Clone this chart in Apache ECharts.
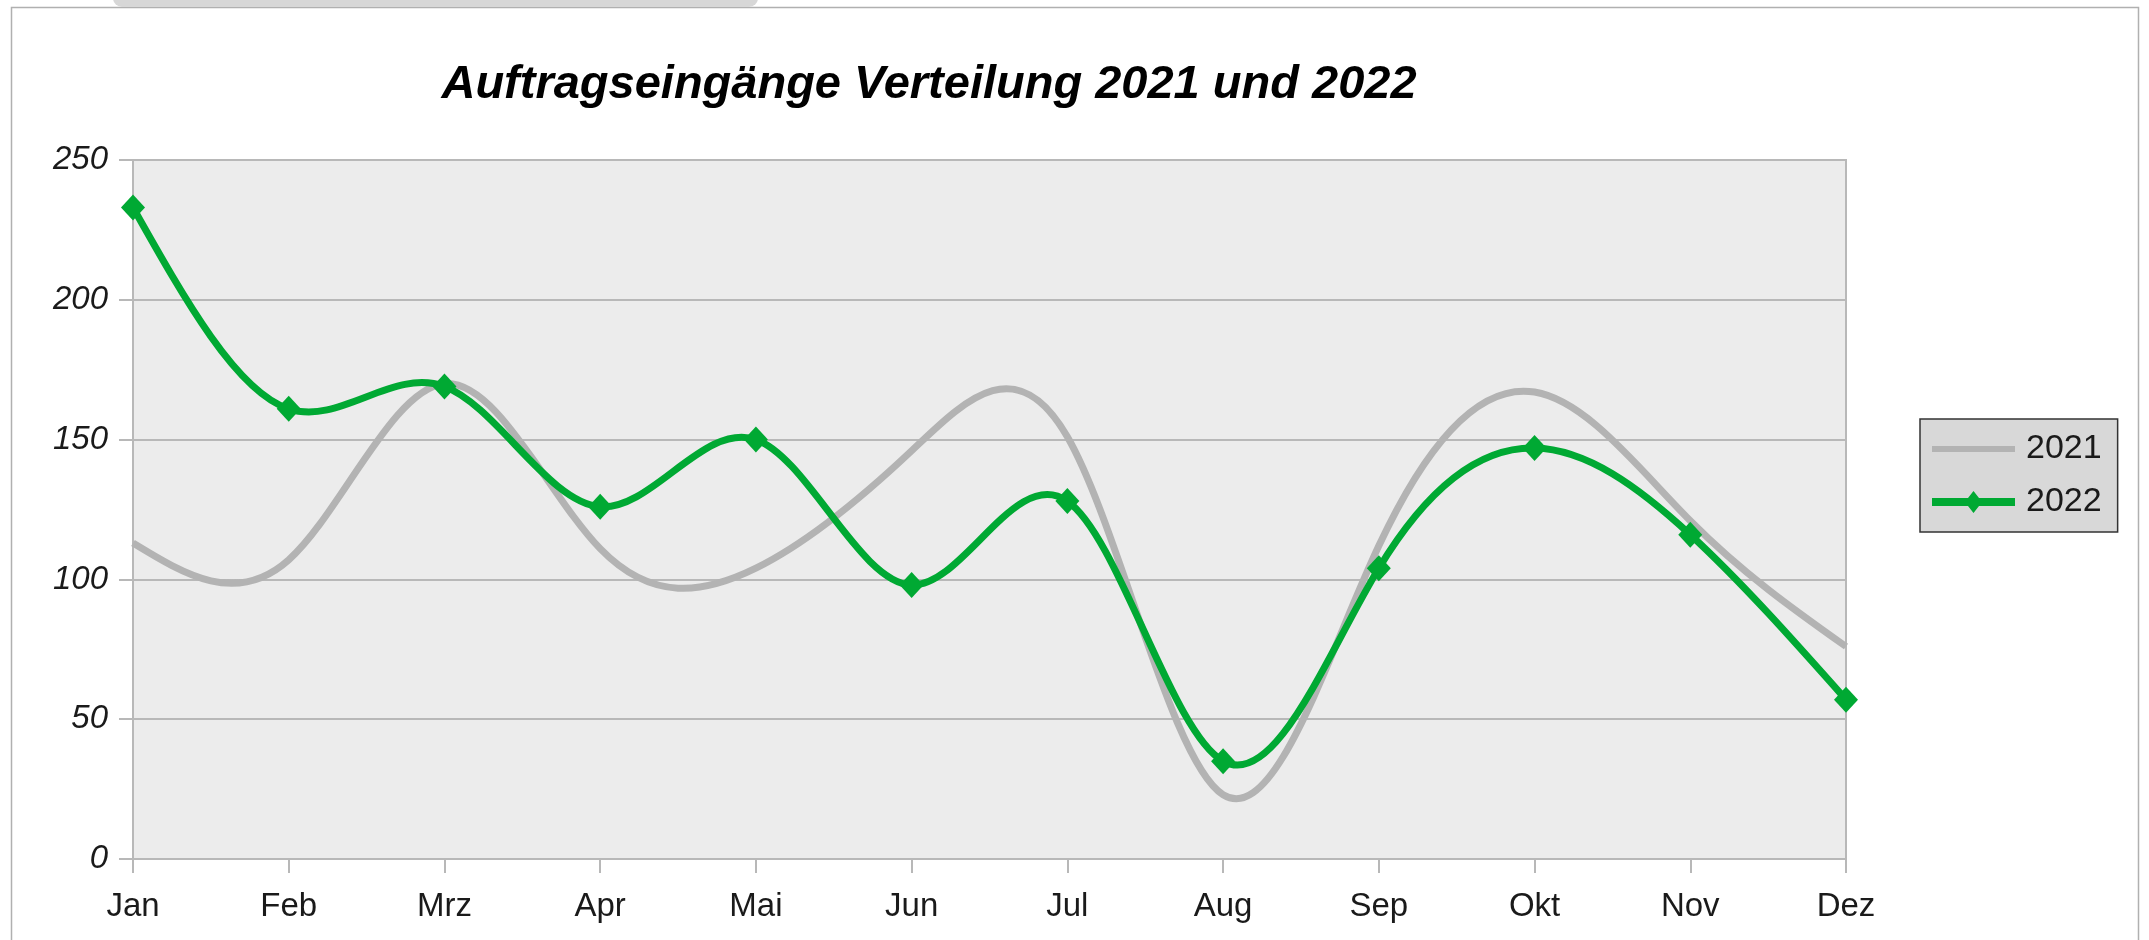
<!DOCTYPE html>
<html>
<head>
<meta charset="utf-8">
<title>Auftragseingänge Verteilung 2021 und 2022</title>
<script src="https://cdn.jsdelivr.net/npm/echarts@6/dist/echarts.min.js"></script>
<style>
    html, body { margin: 0; padding: 0; background: #fff; }
    #chart { width: 2149px; height: 940px; }
</style>
</head>
<body>
<div id="chart"></div>
<script>
// Monate und Werte
const months = ['Jan', 'Feb', 'Mrz', 'Apr', 'Mai', 'Jun', 'Jul', 'Aug', 'Sep', 'Okt', 'Nov', 'Dez'];
const values2021 = [113, 107, 170, 111, 104, 146, 151, 23, 112, 167, 121, 76];
const values2022 = [233, 161, 169, 126, 150, 98, 128, 35, 104, 147, 116, 57];
const yTicks = [0, 50, 100, 150, 200, 250];

const fontFamily = '"Liberation Sans", Arial, sans-serif';
const textColor = '#1a1a1a';
const gridColor = '#b8b8b8';
const grey = '#b3b3b3';
const green = '#00a933';

// natürlicher kubischer Spline durch die Pixelpunkte (wie LibreOffice "Kubischer Spline")
function splinePath(pts) {
    const n = pts.length - 1;
    const h = pts[1][0] - pts[0][0];
    const M = new Array(n + 1).fill(0);
    // Tridiagonal-System lösen (Thomas-Algorithmus), M0 = Mn = 0
    const c = new Array(n + 1).fill(0);
    const d = new Array(n + 1).fill(0);
    for (let i = 1; i < n; i++) {
        const rhs = 6 / (h * h) * (pts[i + 1][1] - 2 * pts[i][1] + pts[i - 1][1]);
        const denom = 4 - (i > 1 ? c[i - 1] : 0);
        c[i] = 1 / denom;
        d[i] = (rhs - (i > 1 ? d[i - 1] : 0)) / denom;
    }
    for (let i = n - 1; i >= 1; i--) {
        M[i] = d[i] - c[i] * (i < n - 1 ? M[i + 1] : 0);
    }
    let path = 'M' + pts[0][0] + ' ' + pts[0][1];
    for (let i = 0; i < n; i++) {
        const x0 = pts[i][0], y0 = pts[i][1];
        const x1 = pts[i + 1][0], y1 = pts[i + 1][1];
        const dx = x1 - x0;
        const s0 = (y1 - y0) / dx - dx * (2 * M[i] + M[i + 1]) / 6;
        const s1 = (y1 - y0) / dx + dx * (M[i] + 2 * M[i + 1]) / 6;
        path += ' C' + (x0 + dx / 3) + ' ' + (y0 + s0 * dx / 3) + ' '
            + (x1 - dx / 3) + ' ' + (y1 - s1 * dx / 3) + ' ' + x1 + ' ' + y1;
    }
    return path;
}

function makeRenderItem(color, width) {
    return function (params, api) {
        if (params.dataIndexInside !== 0) {
            return null;
        }
        const pts = [];
        for (let i = 0; i < params.dataInsideLength; i++) {
            pts.push(api.coord([api.value(0, i), api.value(1, i)]));
        }
        return {
            type: 'path',
            shape: { pathData: splinePath(pts) },
            style: { fill: 'none', stroke: color, lineWidth: width, lineJoin: 'round', lineCap: 'butt' },
        };
    };
}

const data2021 = values2021.map((v, i) => [i, v]);
const data2022 = values2022.map((v, i) => [i, v]);

const myChart = echarts.init(document.getElementById('chart'));

const option = {
    backgroundColor: '#ffffff',
    animation: false,
    title: {
        text: 'Auftragseingänge Verteilung 2021 und 2022',
        left: 929,
        top: 62,
        padding: 0,
        textAlign: 'center',
        textStyle: {
            fontFamily: fontFamily,
            fontSize: 47,
            fontWeight: 'bold',
            fontStyle: 'italic',
            color: '#000',
        },
    },
    graphic: [
        {
            // Rahmen
            type: 'rect',
            shape: { x: 11.5, y: 7.5, width: 2127, height: 1000 },
            style: { fill: 'none', stroke: '#b0b0b0', lineWidth: 1.5 },
            z: -1,
        },
        {
            // grauer Reiter oben
            type: 'rect',
            shape: { x: 113, y: -12, width: 645, height: 19, r: 9 },
            style: { fill: '#d7d7d7' },
            z: 0,
        },
    ],
    legend: {
        orient: 'vertical',
        left: 1920,
        top: 419,
        padding: [13, 16, 13, 12],
        itemGap: 19,
        itemWidth: 83,
        itemHeight: 22,
        backgroundColor: '#d8d8d8',
        borderColor: '#333333',
        borderWidth: 1.5,
        borderRadius: 0,
        data: [
            { name: '2021', icon: 'path://M0 0H83V6H0Z', itemStyle: { color: grey } },
            {
                name: '2022',
                icon: 'path://M0 7H36L41.5 0L47 7H83V15H47L41.5 22L36 15H0Z',
                itemStyle: { color: green },
            },
        ],
        textStyle: {
            fontFamily: fontFamily,
            fontSize: 34,
            color: textColor,
            padding: [0, 0, 0, 6],
        },
    },
    grid: {
        left: 133,
        right: 303,
        top: 160,
        bottom: 81,
        show: true,
        backgroundColor: '#ececec',
        borderColor: gridColor,
        borderWidth: 2,
        outerBoundsMode: 'none',
    },
    xAxis: {
        type: 'category',
        boundaryGap: false,
        data: months,
        axisLine: { show: true, lineStyle: { color: gridColor, width: 2 } },
        axisTick: { show: true, length: 14, alignWithLabel: true, lineStyle: { color: gridColor, width: 2 } },
        axisLabel: {
            margin: 31,
            fontFamily: fontFamily,
            fontSize: 33,
            color: textColor,
            interval: 0,
        },
        splitLine: { show: false },
    },
    yAxis: {
        type: 'value',
        min: yTicks[0],
        max: yTicks[yTicks.length - 1],
        interval: 50,
        axisLine: { show: true, lineStyle: { color: gridColor, width: 2 } },
        axisTick: { show: true, length: 14, lineStyle: { color: gridColor, width: 2 } },
        axisLabel: {
            margin: 25,
            fontFamily: fontFamily,
            fontSize: 33,
            fontStyle: 'italic',
            color: textColor,
        },
        splitLine: { show: true, lineStyle: { color: gridColor, width: 2 } },
    },
    series: [
        {
            name: '2021',
            type: 'custom',
            data: data2021,
            encode: { x: 0, y: 1 },
            renderItem: makeRenderItem(grey, 7),
            itemStyle: { color: grey },
            silent: true,
            z: 2,
        },
        {
            name: '2022',
            type: 'custom',
            data: data2022,
            encode: { x: 0, y: 1 },
            renderItem: makeRenderItem(green, 7),
            itemStyle: { color: green },
            silent: true,
            z: 3,
        },
        {
            name: '2022',
            type: 'scatter',
            data: data2022,
            symbol: 'diamond',
            symbolSize: [24, 26],
            itemStyle: { color: green, opacity: 1 },
            z: 4,
        },
    ],
};

myChart.setOption(option);
</script>
</body>
</html>
